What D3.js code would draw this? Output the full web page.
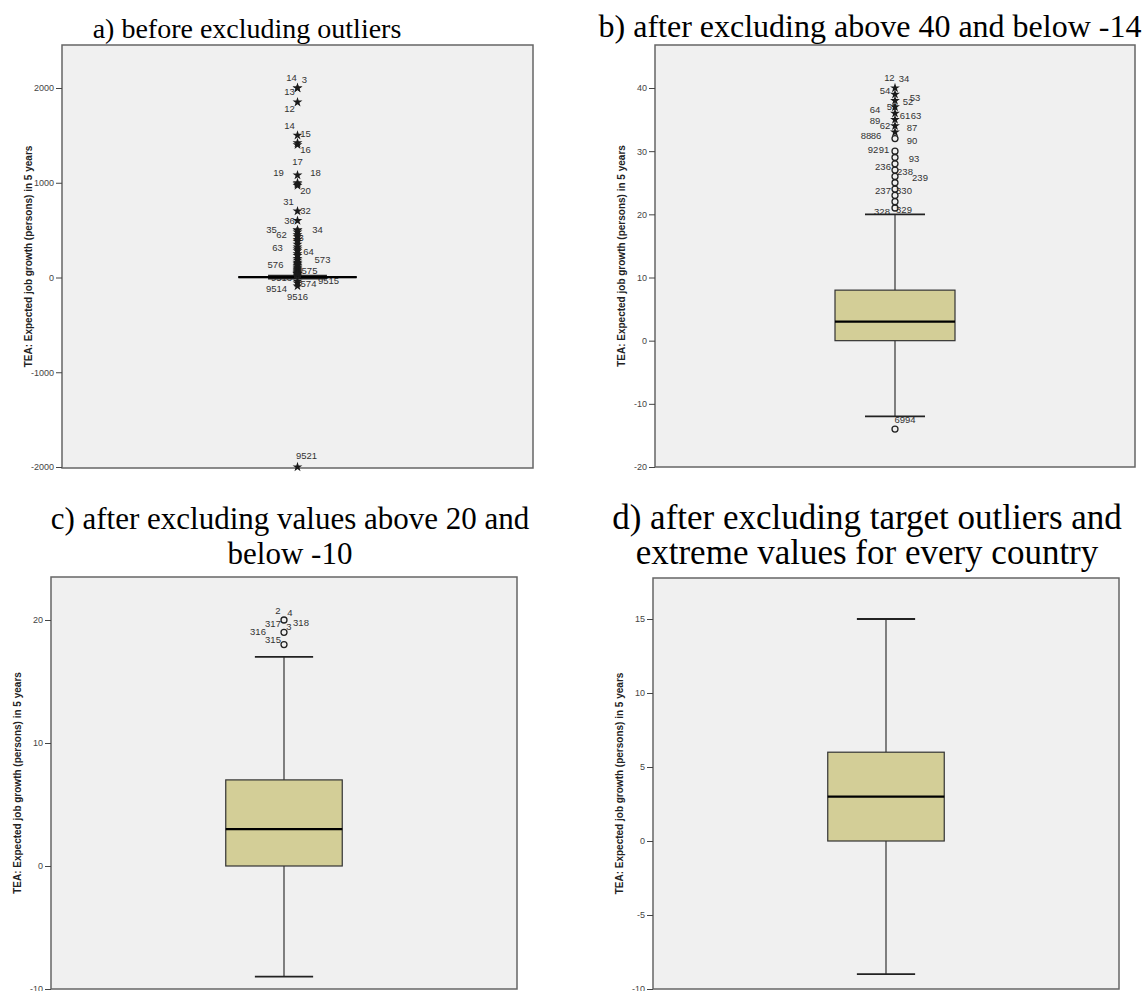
<!DOCTYPE html>
<html>
<head>
<meta charset="utf-8">
<script src="https://cdn.jsdelivr.net/npm/d3@7"></script>
<style>
  html, body { margin: 0; padding: 0; background: #ffffff; }
  svg { display: block; }
</style>
</head>
<body>
<svg id="chart" width="1148" height="991"></svg>
<script>
// ---------------- DATA ----------------
const yAxisTitle = "TEA: Expected job growth (persons) in 5 years";

// panel titles
const titleA = ["a) before excluding outliers"];
const titleB = ["b) after excluding above 40 and below -14"];
const titleC = ["c) after excluding values above 20 and", "below -10"];
const titleD = ["d) after excluding target outliers and", "extreme values for every country"];

// tick labels
const ticksA = [-2000, -1000, 0, 1000, 2000];
const ticksB = [-20, -10, 0, 10, 20, 30, 40];
const ticksC = [-10, 0, 10, 20];
const ticksD = [-10, -5, 0, 5, 10, 15];

// box statistics: [lower whisker, Q1, median, Q3, upper whisker]
const boxA = [-12, 0, 3, 8, 20];
const boxB = [-12, 0, 3, 8, 20];
const boxC = [-9, 0, 3, 7, 17];
const boxD = [-9, 0, 3, 6, 15];

// outliers (circles) and extreme values (stars)
const circlesA = [21, 22, 23, 24, 25, 26, 27, 28, 29, 30, 32];
const starsA = [2000, 2000, 1850, 1500, 1420, 1400, 1080, 1000, 985, 970, 700, 600,
  500, 500, 480, 450, 430, 400, 380, 350, 320, 300, 280, 250, 230, 200, 180, 160,
  150, 140, 125, 110, 100, 90, 80, 70, 60, 50, 45, 40, 36, 33, -40, -60, -90, -2000];
const circlesB = [21, 22, 23, 24, 25, 26, 27, 28, 29, 30, 32, -14];
const starsB = [33, 34, 35, 36, 37, 38, 39, 40];
const circlesC = [18, 19, 20];
const starsC = [];
const circlesD = [];
const starsD = [];

// case labels: text and the value they sit at
const labelTextA = ["14", "3", "13", "12", "14", "15", "16", "17", "19", "18", "20", "31", "32", "36",
  "35", "62", "34", "33", "63", "64", "573", "576", "575", "9513", "9515", "574", "9514", "9516", "9521"];
const labelValueA = [2100, 2079, 1953, 1773, 1594, 1509, 1340, 1214, 1098, 1098, 908, 792, 697, 591,
  496, 443, 496, 412, 306, 264, 179, 127, 63, -11, -42, -74, -127, -211, -1889];

const labelTextB = ["1", "2", "34", "54", "53", "52", "55", "64", "61", "63", "89", "62", "87", "88", "86",
  "90", "92", "91", "93", "236", "238", "239", "237", "330", "328", "329", "6994"];
const labelValueB = [41.5, 41.5, 41.3, 39.4, 38.3, 37.7, 36.9, 36.4, 35.5, 35.5, 34.7, 33.9, 33.6, 32.3, 32.3,
  31.5, 30.1, 30.1, 28.7, 27.4, 26.6, 25.6, 23.6, 23.6, 20.3, 20.6, -12.7];

const labelTextC = ["2", "4", "317", "3", "318", "316", "315"];
const labelValueC = [20.7, 20.5, 19.6, 19.4, 19.7, 19.0, 18.3];

// ---------------- LAYOUT (positions / styles) ----------------
const labelDxA = [-6, 7, -8, -8, -8, 8, 8, 0, -19, 18, 8, -9, 8, -8,
  -26, -16, 20, 1, -20, 11, 25, -22, 12, -16, 31, 11, -21, 0, 9];
const labelDxB = [-8, -3, 9, -10, 20, 13, -3, -20, 10, 21, -20, -10, 17, -29, -19,
  17, -22, -11, 19, -12, 10, 25, -12, 9, -13, 9, 10];
const labelDxC = [-6, 6, -11, 5, 17, -26, -11];

const svg = d3.select("#chart");

const panels = [
  { x0: 62, x1: 533, top: 45, bottom: 468, tk: [-2000, 2000], px: [467, 88],
    ticks: ticksA, box: boxA, circles: circlesA, stars: starsA,
    lt: labelTextA, lv: labelValueA, ldx: labelDxA,
    title: titleA, tx: 247, ty: 38, tfs: 28 },
  { x0: 655, x1: 1135, top: 45, bottom: 467, tk: [-20, 40], px: [467, 88],
    ticks: ticksB, box: boxB, circles: circlesB, stars: starsB,
    lt: labelTextB, lv: labelValueB, ldx: labelDxB,
    title: titleB, tx: 870, ty: 37, tfs: 32 },
  { x0: 51, x1: 517, top: 577, bottom: 989, tk: [-10, 20], px: [989, 620],
    ticks: ticksC, box: boxC, circles: circlesC, stars: starsC,
    lt: labelTextC, lv: labelValueC, ldx: labelDxC,
    title: titleC, tx: 290, ty: 529, tfs: 31 },
  { x0: 653, x1: 1119, top: 578, bottom: 989, tk: [-10, 15], px: [989, 619],
    ticks: ticksD, box: boxD, circles: circlesD, stars: starsD,
    lt: [], lv: [], ldx: [],
    title: titleD, tx: 867, ty: 529, tfs: 35 }
];

panels.forEach(p => {
  const g = svg.append("g");
  const y = d3.scaleLinear().domain(p.tk).range(p.px);
  const cx = (p.x0 + p.x1) / 2;
  const pw = p.x1 - p.x0;
  const boxW = pw * 0.25;
  const capW = pw * 0.125;

  // frame
  g.append("rect")
    .attr("x", p.x0).attr("y", p.top)
    .attr("width", pw).attr("height", p.bottom - p.top)
    .attr("fill", "#f0f0f0")
    .attr("stroke", "#666").attr("stroke-width", 1.5);

  // axis
  const ax = g.append("g")
    .attr("transform", `translate(${p.x0},0)`)
    .call(d3.axisLeft(y).tickValues(p.ticks).tickSize(6).tickPadding(2).tickFormat(d => String(d)));
  ax.select(".domain").remove();
  ax.selectAll(".tick line").attr("stroke", "#444");
  ax.selectAll(".tick text")
    .attr("fill", "#444")
    .style("font-family", "'Liberation Sans', Arial, sans-serif")
    .style("font-size", "9px");

  // y axis title
  g.append("text")
    .attr("transform", `translate(${p.x0 - 33},${(p.top + p.bottom) / 2}) rotate(-90)`)
    .attr("text-anchor", "middle")
    .attr("dominant-baseline", "middle")
    .style("font-family", "'Liberation Sans', Arial, sans-serif")
    .style("font-size", "10px")
    .style("font-weight", "bold")
    .attr("fill", "#222")
    .text(yAxisTitle);

  // case labels
  g.selectAll("text.lab")
    .data(p.lt.map((t, i) => ({ t, v: p.lv[i], dx: p.ldx[i] })))
    .join("text")
    .attr("class", "lab")
    .attr("x", d => cx + d.dx)
    .attr("y", d => y(d.v))
    .attr("text-anchor", "middle")
    .attr("dominant-baseline", "middle")
    .style("font-family", "'Liberation Sans', Arial, sans-serif")
    .style("font-size", "9.5px")
    .attr("fill", "#333")
    .text(d => d.t);

  const [lo, q1, med, q3, hi] = p.box;
  // whiskers
  g.append("line").attr("x1", cx).attr("x2", cx).attr("y1", y(q3)).attr("y2", y(hi))
    .attr("stroke", "#333").attr("stroke-width", 1.2);
  g.append("line").attr("x1", cx).attr("x2", cx).attr("y1", y(q1)).attr("y2", y(lo))
    .attr("stroke", "#333").attr("stroke-width", 1.2);
  // caps
  [lo, hi].forEach(v => {
    g.append("line").attr("x1", cx - capW / 2).attr("x2", cx + capW / 2)
      .attr("y1", y(v)).attr("y2", y(v))
      .attr("stroke", "#222").attr("stroke-width", 1.8);
  });
  // box
  g.append("rect")
    .attr("x", cx - boxW / 2).attr("width", boxW)
    .attr("y", y(q3)).attr("height", Math.max(0.5, y(q1) - y(q3)))
    .attr("fill", "#d3ce97").attr("stroke", "#333").attr("stroke-width", 1.2);
  // median
  g.append("line").attr("x1", cx - boxW / 2).attr("x2", cx + boxW / 2)
    .attr("y1", y(med)).attr("y2", y(med))
    .attr("stroke", "#000").attr("stroke-width", 2.2);

  // outlier circles
  g.selectAll("circle.out").data(p.circles).join("circle")
    .attr("class", "out")
    .attr("cx", cx).attr("cy", d => y(d)).attr("r", 3)
    .attr("fill", "none").attr("stroke", "#222").attr("stroke-width", 1.3);

  // extreme stars
  const star = d3.symbol().type(d3.symbolStar).size(30);
  g.selectAll("path.ext").data(p.stars).join("path")
    .attr("class", "ext")
    .attr("transform", d => `translate(${cx},${y(d)})`)
    .attr("d", star)
    .attr("fill", "#1a1a1a");

  // title
  g.selectAll("text.title").data(p.title).join("text")
    .attr("class", "title")
    .attr("x", p.tx)
    .attr("y", (d, i) => p.ty + i * 35)
    .attr("text-anchor", "middle")
    .style("font-family", "'Liberation Serif', 'Times New Roman', serif")
    .style("font-size", p.tfs + "px")
    .attr("fill", "#000")
    .text(d => d);
});
</script>
</body>
</html>
